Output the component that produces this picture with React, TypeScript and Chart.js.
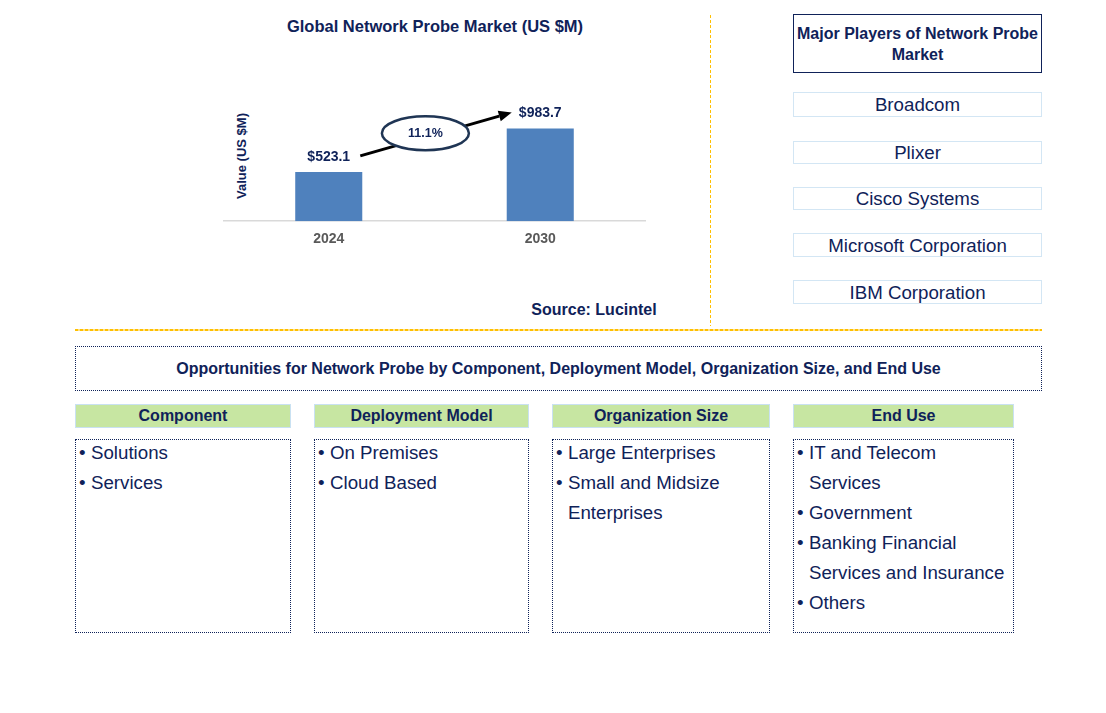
import React, { useEffect, useRef } from "react";
import { Chart, registerables } from "chart.js";

Chart.register(...registerables);

const years: string[] = ["2024", "2030"];
const marketValues: number[] = [523.1, 983.7];
const valueLabels: string[] = ["$523.1", "$983.7"];
const cagrLabel = "11.1%";
const players: string[] = ["Broadcom", "Plixer", "Cisco Systems", "Microsoft Corporation", "IBM Corporation"];
const segmentTitles: string[] = ["Component", "Deployment Model", "Organization Size", "End Use"];
const componentItems: string[] = ["Solutions", "Services"];
const deploymentItems: string[] = ["On Premises", "Cloud Based"];
const orgSizeItems: string[] = ["Large Enterprises", "Small and Midsize Enterprises"];
const endUseItems: string[] = ["IT and Telecom Services", "Government", "Banking Financial Services and Insurance", "Others"];

const FONT = '"Liberation Sans", Arial, sans-serif';
const NAVY = "#0f2259";

const overlayPlugin = {
  id: "overlay",
  afterDatasetsDraw(chart: any) {
    const ctx = chart.ctx;
    const meta = chart.getDatasetMeta(0);
    const bars = meta.data;
    ctx.save();
    ctx.font = `bold 14px ${FONT}`;
    ctx.fillStyle = NAVY;
    ctx.textAlign = "center";
    ctx.textBaseline = "middle";
    bars.forEach((b: any, i: number) => {
      ctx.fillText(valueLabels[i], b.x, b.y - 15);
    });
    const b0 = bars[0];
    const b1 = bars[1];
    const x1 = b0.x + b0.width / 2 - 2;
    const y1 = b0.y - 16;
    const x2 = b1.x - b1.width / 2 + 5;
    const y2 = b1.y - 16;
    const ang = Math.atan2(y2 - y1, x2 - x1);
    const headLen = 13;
    const hx = x2 - headLen * Math.cos(ang);
    const hy = y2 - headLen * Math.sin(ang);
    ctx.strokeStyle = "#000";
    ctx.lineWidth = 3;
    ctx.beginPath();
    ctx.moveTo(x1, y1);
    ctx.lineTo(hx, hy);
    ctx.stroke();
    ctx.fillStyle = "#000";
    ctx.beginPath();
    ctx.moveTo(x2, y2);
    ctx.lineTo(hx + 5.5 * Math.sin(ang), hy - 5.5 * Math.cos(ang));
    ctx.lineTo(hx - 5.5 * Math.sin(ang), hy + 5.5 * Math.cos(ang));
    ctx.closePath();
    ctx.fill();
    const t = 0.43;
    const ex = x1 + (x2 - x1) * t;
    const ey = y1 + (y2 - y1) * t - 4;
    ctx.beginPath();
    ctx.ellipse(ex, ey, 43.5, 17, 0, 0, Math.PI * 2);
    ctx.fillStyle = "#fff";
    ctx.fill();
    ctx.lineWidth = 2.5;
    ctx.strokeStyle = "#1f3554";
    ctx.stroke();
    ctx.font = `bold 12.5px ${FONT}`;
    ctx.fillStyle = NAVY;
    ctx.fillText(cagrLabel, ex, ey);
    ctx.restore();
  },
};

const abs = (l: number, t: number, w: number, h: number): React.CSSProperties => ({
  position: "absolute",
  left: l,
  top: t,
  width: w,
  height: h,
  boxSizing: "border-box",
});

function ItemList({ items, left, width }: { items: string[]; left: number; width: number }) {
  return (
    <div style={{ ...abs(left, 439, width, 194), border: `1px dotted ${NAVY}`, padding: "0 3px" }}>
      <div style={{ marginTop: -2 }}>
        {items.map((it) => (
          <div
            key={it}
            style={{
              fontSize: 18.7,
              lineHeight: "30px",
              color: NAVY,
              paddingLeft: 12,
              textIndent: -12,
            }}
          >
            <span style={{ display: "inline-block", width: 12, textIndent: 0 }}>•</span>
            {it}
          </div>
        ))}
      </div>
    </div>
  );
}

export default function App() {
  const canvasRef = useRef<HTMLCanvasElement | null>(null);

  useEffect(() => {
    if (!canvasRef.current) return;
    const chart = new Chart(canvasRef.current, {
      type: "bar",
      data: {
        labels: years,
        datasets: [
          {
            data: marketValues,
            backgroundColor: "#4f81bd",
            categoryPercentage: 1,
            barPercentage: 0.317,
          },
        ],
      },
      options: {
        animation: false,
        responsive: false,
        maintainAspectRatio: false,
        layout: { padding: 0 },
        plugins: { legend: { display: false }, tooltip: { enabled: false }, title: { display: false } },
        scales: {
          x: {
            grid: { display: false, drawTicks: false, tickLength: 0 },
            border: { display: true, color: "#d9d9d9", width: 1.5 },
            ticks: { color: "#595959", font: { family: FONT, size: 14, weight: "bold" }, padding: 10 },
          },
          y: { display: false, min: 0, max: 1700 },
        },
      },
      plugins: [overlayPlugin],
    });
    return () => chart.destroy();
  }, []);

  const headerLefts = [75, 314, 552, 793];
  const headerWidths = [216, 215, 218, 221];
  const lists = [componentItems, deploymentItems, orgSizeItems, endUseItems];

  return (
    <div style={{ position: "absolute", left: 0, top: 0, width: 1106, height: 713, background: "#fff", fontFamily: FONT, overflow: "hidden" }}>
      <div style={{ ...abs(200, 15, 470, 22), textAlign: "center", fontWeight: "bold", fontSize: 16.5, color: NAVY, lineHeight: "22px" }}>
        Global Network Probe Market (US $M)
      </div>
      <div
        style={{
          position: "absolute",
          left: 241,
          top: 156,
          transform: "translate(-50%, -50%) rotate(-90deg)",
          whiteSpace: "nowrap",
          fontWeight: "bold",
          fontSize: 13,
          color: NAVY,
        }}
      >
        Value (US $M)
      </div>
      <canvas ref={canvasRef} width={423} height={197} style={{ position: "absolute", left: 223, top: 61, width: 423, height: 197 }} />
      <div style={{ ...abs(480, 300, 228, 20), textAlign: "center", fontWeight: "bold", fontSize: 16, color: NAVY, lineHeight: "20px" }}>
        Source: Lucintel
      </div>

      <div
        style={{
          ...abs(710, 15, 1, 311),
          background: "repeating-linear-gradient(to bottom, #ffc000 0 3px, transparent 3px 5px)",
        }}
      />
      <div
        style={{
          ...abs(75, 329, 967, 1.5),
          background: "repeating-linear-gradient(to right, #ffc000 0 3px, #ffe08a 3px 5px)",
        }}
      />

      <div
        style={{
          ...abs(793, 14, 249, 59),
          border: `1.5px solid ${NAVY}`,
          display: "flex",
          alignItems: "center",
          justifyContent: "center",
          textAlign: "center",
          fontWeight: "bold",
          fontSize: 16,
          lineHeight: "21px",
          color: NAVY,
        }}
      >
        Major Players of Network Probe Market
      </div>
      {players.map((p, i) => {
        const tops = [92, 141, 187, 233, 280];
        const hs = [25, 23, 23, 24, 24];
        return (
          <div
            key={p}
            style={{
              ...abs(793, tops[i], 249, hs[i]),
              border: "1.5px solid #d3e6f4",
              display: "flex",
              alignItems: "center",
              justifyContent: "center",
              fontSize: 18.7,
              color: NAVY,
              paddingTop: 1,
            }}
          >
            {p}
          </div>
        );
      })}

      <div
        style={{
          ...abs(75, 346, 967, 45),
          border: `1px dotted ${NAVY}`,
          display: "flex",
          alignItems: "center",
          justifyContent: "center",
          fontWeight: "bold",
          fontSize: 16,
          color: NAVY,
        }}
      >
        Opportunities for Network Probe by Component, Deployment Model, Organization Size, and End Use
      </div>

      {segmentTitles.map((s, i) => (
        <div
          key={s}
          style={{
            ...abs(headerLefts[i], 404, headerWidths[i], 24),
            background: "#c7e6a2",
            border: "1.5px solid #c9e1f2",
            display: "flex",
            alignItems: "center",
            justifyContent: "center",
            fontWeight: "bold",
            fontSize: 16,
            color: NAVY,
          }}
        >
          {s}
        </div>
      ))}
      {lists.map((items, i) => (
        <ItemList key={i} items={items} left={headerLefts[i]} width={headerWidths[i]} />
      ))}
    </div>
  );
}
